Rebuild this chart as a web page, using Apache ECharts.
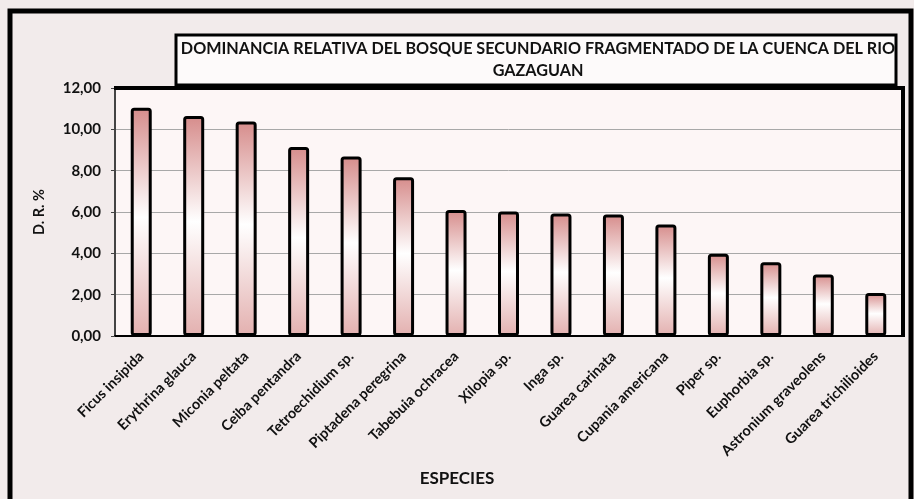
<!DOCTYPE html>
<html>
<head>
<meta charset="utf-8">
<script src="https://cdn.jsdelivr.net/npm/echarts@6/dist/echarts.min.js"></script>
<style>html,body{margin:0;padding:0;background:#fff}#c{width:914px;height:499px}</style>
</head>
<body>
<div id="c"></div>
<script>
const categories = ["Ficus insipida","Erythrina glauca","Miconia peltata","Ceiba pentandra","Tetroechidium sp.","Piptadena peregrina","Tabebuia ochracea","Xilopia sp.","Inga sp.","Guarea carinata","Cupania americana","Piper sp.","Euphorbia sp.","Astronium graveolens","Guarea trichilioides"];
const values = [11.05, 10.65, 10.38, 9.15, 8.68, 7.68, 6.10, 6.03, 5.93, 5.88, 5.40, 3.98, 3.57, 2.98, 2.08];
const yTicks = [0, 2, 4, 6, 8, 10, 12];
const titleText = "DOMINANCIA RELATIVA DEL BOSQUE SECUNDARIO FRAGMENTADO DE LA CUENCA DEL RIO\nGAZAGUAN";
const xName = "ESPECIES";
const yName = "D. R. %";

const FONT = "Lato";
const chart = echarts.init(document.getElementById('c'), null, {renderer: 'canvas'});
chart.setOption({
  backgroundColor: '#f2ebeb',
  animation: false,
  title: [
    {text: titleText, left: 538, top: 38, textAlign: 'center', padding: 0,
     textStyle: {fontFamily: FONT, fontWeight: 'bold', fontSize: 16.2, color: '#111', lineHeight: 22, align: 'center'}},
    {text: xName, left: 'center', top: 470, padding: 0,
     textStyle: {fontFamily: FONT, fontWeight: 'bold', fontSize: 17, color: '#111'}}
  ],
  graphic: [
    {type: 'rect', shape: {x: 10, y: 11, width: 901, height: 600}, style: {fill: 'none', stroke: '#000', lineWidth: 5}, z: 100},
    {type: 'rect', shape: {x: 176, y: 35, width: 720, height: 50}, style: {fill: '#fdfafa', stroke: '#000', lineWidth: 3}, z: -1},
    {type: 'polyline', shape: {points: [[114, 88], [903, 88], [903, 337]]}, style: {fill: 'none', stroke: '#000', lineWidth: 4}, z: 50}
  ],
  grid: {left: 115, right: 12, top: 88, bottom: 163, show: true, backgroundColor: '#fdf6f6', borderColor: '#333', borderWidth: 1},
  xAxis: {
    type: 'category', data: categories,
    axisLine: {lineStyle: {color: '#000', width: 2}},
    axisTick: {show: false},
    axisLabel: {rotate: 45, interval: 0, margin: 18, fontFamily: FONT, fontWeight: 'bold', fontSize: 14.5, color: '#111'}
  },
  yAxis: {
    type: 'value', min: 0, max: 12, interval: 2,
    name: yName, nameLocation: 'middle', nameGap: 68, nameRotate: 90,
    nameTextStyle: {fontFamily: FONT, fontWeight: 'bold', fontSize: 14.5, color: '#111'},
    axisLine: {show: true, lineStyle: {color: '#444', width: 2}},
    axisTick: {show: true, length: 4, lineStyle: {color: '#444'}},
    splitLine: {lineStyle: {color: '#a8a8a8', width: 1}},
    axisLabel: {margin: 14, fontFamily: FONT, fontWeight: 'bold', fontSize: 15, color: '#111',
      formatter: v => yTicks.indexOf(v) >= 0 ? v.toFixed(2).replace('.', ',') : ''}
  },
  series: [{
    type: 'bar', data: values, barWidth: 21,
    itemStyle: {
      borderColor: '#000', borderWidth: 3, borderRadius: 2,
      color: new echarts.graphic.LinearGradient(0, 0, 0, 1, [
        {offset: 0, color: '#d68c8b'},
        {offset: 0.48, color: '#ffffff'},
        {offset: 1, color: '#e3b0af'}
      ])
    }
  }]
});
</script>
</body>
</html>
